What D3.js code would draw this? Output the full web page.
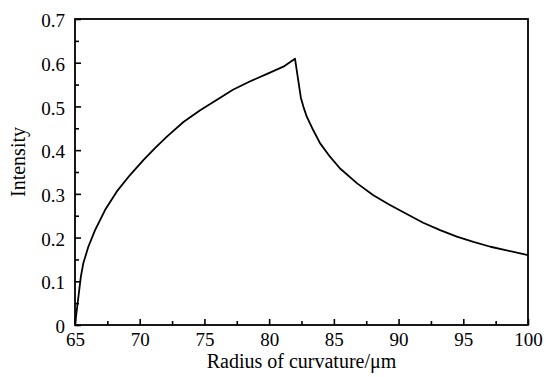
<!DOCTYPE html>
<html>
<head>
<meta charset="utf-8">
<script src="https://cdn.jsdelivr.net/npm/d3@7"></script>
<style>
  body { margin: 0; background: #fff; }
  svg { display: block; }
  text { font-family: "Liberation Serif", "Times New Roman", serif; fill: #000; }
</style>
</head>
<body>
<div id="chart"></div>
<script>
// curve
const radius = [65, 65.45, 65.64, 66.03, 66.55, 67.32, 68.22, 69.25, 70.28, 71.2, 72.1, 73.4, 74.7, 76.0, 77.2,
  78.5, 79.8, 81.1, 82.0, 82.45, 82.65, 82.9, 83.4, 83.93, 84.7, 85.48, 86.8, 88.05, 89.3, 90.63, 91.9,
  93.21, 94.5, 95.78, 97.1, 100];
const intensity = [0, 0.11, 0.141, 0.179, 0.217, 0.263, 0.305, 0.343, 0.377, 0.405, 0.431, 0.465, 0.492, 0.516, 0.538,
  0.557, 0.574, 0.591, 0.609, 0.52, 0.499, 0.477, 0.446, 0.416, 0.385, 0.358, 0.324, 0.297, 0.275, 0.254, 0.234,
  0.217, 0.202, 0.19, 0.179, 0.16];

const xTicks = [65, 70, 75, 80, 85, 90, 95, 100];
const xMinor = [67.5, 72.5, 77.5, 82.5, 87.5, 92.5, 97.5];
const yTicks = [0, 0.1, 0.2, 0.3, 0.4, 0.5, 0.6, 0.7];
const yTickLabels = ["0", "0.1", "0.2", "0.3", "0.4", "0.5", "0.6", "0.7"];
const yMinor = [0.05, 0.15, 0.25, 0.35, 0.45, 0.55, 0.65];

const xTitle = "Radius of curvature/\u03bcm";
const yTitle = "Intensity";

// --- dimensions ---
const W = 546, H = 377;
const margin = { top: 19, right: 18, bottom: 52, left: 75 };
const width = W - margin.left - margin.right;
const height = H - margin.top - margin.bottom;

const svg = d3.select("#chart").append("svg")
  .attr("width", W)
  .attr("height", H);

const g = svg.append("g")
  .attr("transform", `translate(${margin.left},${margin.top})`);

// --- scales ---
const x = d3.scaleLinear().domain([65, 100]).range([0, width]);
const y = d3.scaleLinear().domain([0, 0.7]).range([height, 0]);

// --- axes (ticks point inward) ---
const xAxis = g.append("g")
  .attr("transform", `translate(0,${height})`)
  .call(d3.axisBottom(x).tickValues(xTicks).tickSize(-6).tickSizeOuter(0).tickPadding(8));

g.append("g")
  .attr("transform", `translate(0,${height})`)
  .call(d3.axisBottom(x).tickValues(xMinor).tickSize(-4).tickSizeOuter(0).tickFormat(""));

const yAxis = g.append("g")
  .call(d3.axisLeft(y).tickValues(yTicks).tickSize(-6).tickSizeOuter(0).tickPadding(10)
    .tickFormat((d, i) => yTickLabels[i]));

g.append("g")
  .call(d3.axisLeft(y).tickValues(yMinor).tickSize(-4).tickSizeOuter(0).tickFormat(""));

g.selectAll(".domain").remove();
g.selectAll("g").attr("font-family", "Liberation Serif").attr("font-size", 19);
g.selectAll(".tick line").attr("stroke", "#000").attr("stroke-width", 1.6);
g.selectAll(".tick text").attr("fill", "#000");
yAxis.selectAll(".tick text").attr("dy", "0.4em");

// --- frame ---
g.append("rect")
  .attr("x", 0)
  .attr("y", 0)
  .attr("width", width)
  .attr("height", height)
  .attr("fill", "none")
  .attr("stroke", "#000")
  .attr("stroke-width", 1.8);

// --- curve ---
const line = d3.line()
  .x((d, i) => x(radius[i]))
  .y((d, i) => y(intensity[i]));

g.append("path")
  .datum(intensity)
  .attr("d", line)
  .attr("fill", "none")
  .attr("stroke", "#000")
  .attr("stroke-width", 1.8)
  .attr("stroke-linejoin", "round");

// --- axis titles ---
svg.append("text")
  .attr("x", margin.left + width / 2)
  .attr("y", 368)
  .attr("text-anchor", "middle")
  .style("font-size", "20px")
  .text(xTitle);

svg.append("text")
  .attr("transform", "rotate(-90)")
  .attr("x", -162)
  .attr("y", 25)
  .attr("text-anchor", "middle")
  .style("font-size", "20px")
  .text(yTitle);
</script>
</body>
</html>
